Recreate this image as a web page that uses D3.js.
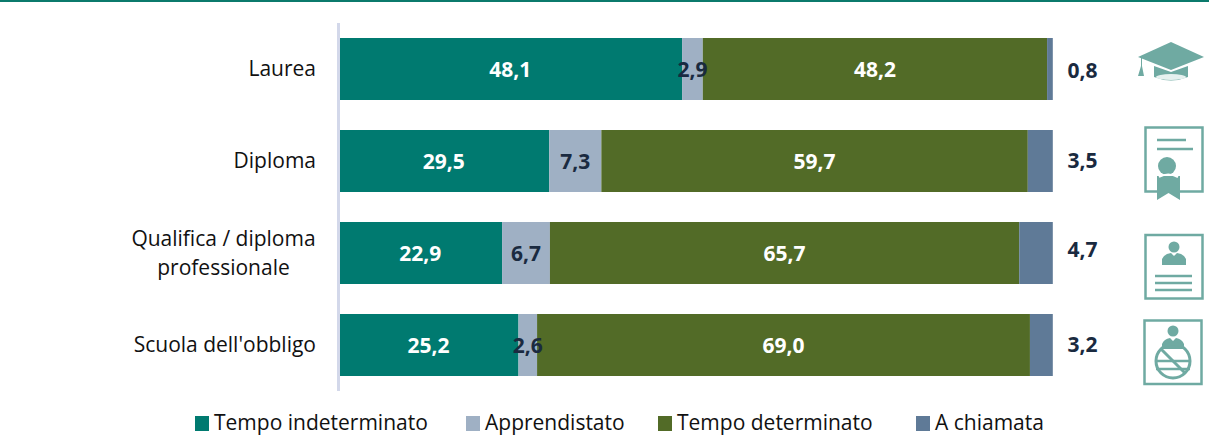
<!DOCTYPE html>
<html><head><meta charset="utf-8">
<script src="https://cdn.jsdelivr.net/npm/d3@7"></script>
<style>html,body{margin:0;padding:0;background:#fff}svg{display:block}text{font-family:"Open Sans",Lato,sans-serif}</style>
</head><body><div id="c"></div>
<script>
const categories = ["Laurea","Diploma","Qualifica / diploma professionale","Scuola dell'obbligo"];
const categoryLines = [["Laurea"],["Diploma"],["Qualifica / diploma","professionale"],["Scuola dell'obbligo"]];
const seriesNames = ["Tempo indeterminato","Apprendistato","Tempo determinato","A chiamata"];
const seriesColors = ["#007A70","#9FB0C4","#526B27","#5F7A97"];
const labelColors = ["#fff","#1a2a40","#fff",null];
const indeterminato = [48.1,29.5,22.9,25.2];
const apprendistato = [2.9,7.3,6.7,2.6];
const determinato = [48.2,59.7,65.7,69.0];
const chiamata = [0.8,3.5,4.7,3.2];
const series = [indeterminato,apprendistato,determinato,chiamata];
const legendX = [195,466,658,916];
const sideOffsets = [2,0,-3,0];

const W=1209,H=435;
const fmt=v=>v.toFixed(1).replace(".",",");
const svg=d3.select("#c").append("svg").attr("width",W).attr("height",H);
svg.append("rect").attr("x",0).attr("y",0).attr("width",W).attr("height",2).attr("fill","#0B7A6C");

const x=d3.scaleLinear().domain([0,100]).range([338.5,1052.8]);
const y=d3.scaleBand().domain(categories).range([23,391]).paddingInner(30/92).paddingOuter(15/92);

const gBars=svg.append("g"), gLabels=svg.append("g");
categories.forEach((c,i)=>{
  let acc=0;
  series.forEach((s,k)=>{
    const v=s[i], x0=x(acc), x1=x(acc+v); acc+=v;
    gBars.append("rect").attr("x",x0).attr("y",y(c)).attr("width",x1-x0).attr("height",y.bandwidth()).attr("fill",seriesColors[k]);
    if(labelColors[k]) gLabels.append("text").attr("x",(x0+x1)/2).attr("y",y(c)+y.bandwidth()/2+7.5)
      .attr("text-anchor","middle").attr("font-size",21).attr("font-weight",700).attr("fill",labelColors[k]).text(fmt(v));
  });
  gLabels.append("text").attr("x",1082.5).attr("y",y(c)+y.bandwidth()/2+7+sideOffsets[i]).attr("text-anchor","middle")
    .attr("font-size",21).attr("font-weight",700).attr("fill","#1a2a40").text(fmt(chiamata[i]));
  const lines=categoryLines[i];
  lines.forEach((l,j)=>{
    const two=lines.length>1;
    gLabels.append("text").attr("x",two?223.5:316).attr("text-anchor",two?"middle":"end")
      .attr("y",y(c)+y.bandwidth()/2+7+(j-(lines.length-1)/2)*29)
      .attr("font-size",21).attr("fill","#111").text(l);
  });
});
svg.append("rect").attr("x",337).attr("y",23).attr("width",3).attr("height",368).attr("fill","#D3D8EA");

seriesNames.forEach((n,k)=>{
  const lx=legendX[k];
  svg.append("rect").attr("x",lx).attr("y",416).attr("width",14).attr("height",15).attr("fill",seriesColors[k]);
  svg.append("text").attr("x",lx+19).attr("y",430).attr("font-size",21).attr("fill","#111").text(n);
});

// Decorative icons
const ic="#6FAAA2";
const cap=svg.append("g");
cap.append("path").attr("d","M1138 57 L1171 42 L1204 57 L1171 70 Z").attr("fill",ic);
cap.append("path").attr("d","M1154 66 L1171 72 L1188 66 L1188 77 Q1171 84 1154 77 Z").attr("fill",ic);
cap.append("path").attr("d","M1141 58 V66 L1138 76 H1144 L1142 66 V58 Z").attr("fill",ic);
cap.append("ellipse").attr("cx",1171).attr("cy",77).attr("rx",15).attr("ry",3).attr("fill","#E6F1EF");

const dip=svg.append("g");
dip.append("rect").attr("x",1145.5).attr("y",127.5).attr("width",57).attr("height",64).attr("fill","none").attr("stroke",ic).attr("stroke-width",2.5);
dip.append("path").attr("d","M1157 140 H1186 M1157 149 H1193").attr("stroke",ic).attr("stroke-width",2.5);
dip.append("path").attr("d","M1157 176 H1180 V200 L1168.5 193 L1157 200 Z").attr("fill",ic);
dip.append("circle").attr("cx",1167).attr("cy",166).attr("r",9).attr("fill",ic);
dip.append("path").attr("d","M1159 177 Q1168 172 1178 177").attr("stroke","#fff").attr("stroke-width",2).attr("fill","none");

const q=svg.append("g");
q.append("rect").attr("x",1145.5).attr("y",235).attr("width",57).attr("height",63.5).attr("fill","none").attr("stroke",ic).attr("stroke-width",2.5);
q.append("circle").attr("cx",1174).attr("cy",247).attr("r",5.5).attr("fill",ic);
q.append("path").attr("d","M1162 265 V259 Q1164 254 1171 253 L1174 256 L1177 253 Q1184 254 1186 259 V265 Z").attr("fill",ic);
q.append("path").attr("d","M1155 276 H1192 M1155 283 H1192 M1155 290 H1192").attr("stroke",ic).attr("stroke-width",2.5);

const s4=svg.append("g");
s4.append("rect").attr("x",1144.5).attr("y",320.5).attr("width",57).attr("height",63.5).attr("fill","none").attr("stroke",ic).attr("stroke-width",2.5);
s4.append("circle").attr("cx",1173).attr("cy",331).attr("r",5.5).attr("fill",ic);
s4.append("path").attr("d","M1162 349 V344 Q1164 339 1170 338 L1173 341 L1176 338 Q1182 339 1184 344 V349 Z").attr("fill",ic);
s4.append("circle").attr("cx",1173).attr("cy",361).attr("r",17).attr("fill","none").attr("stroke",ic).attr("stroke-width",3);
s4.append("path").attr("d","M1156 361 H1190 M1156 369 H1190").attr("stroke",ic).attr("stroke-width",2.5);
s4.append("path").attr("d","M1161 349 L1185 373").attr("stroke",ic).attr("stroke-width",3);
</script></body></html>
